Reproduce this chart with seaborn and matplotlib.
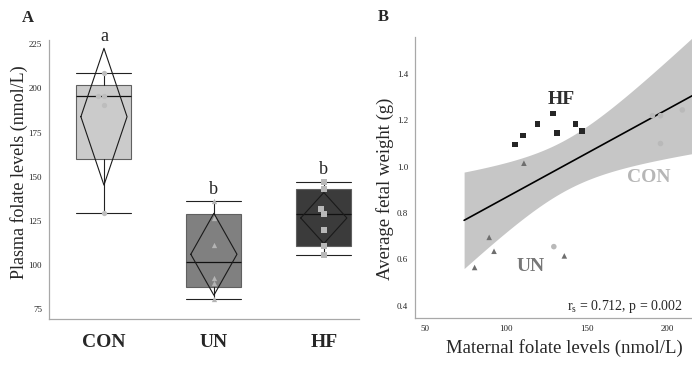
import math
import numpy as np
import pandas as pd
import matplotlib
matplotlib.use("Agg")
import matplotlib.pyplot as plt
import seaborn as sns

# ---------------- data ----------------
groups = ["CON", "UN", "HF"]

# Panel A: plasma folate (nmol/L) per dam
con_folate = [129.5, 190.5, 195.5, 195.5, 209.0]
un_folate = [80.5, 89.5, 92.5, 111.0, 126.5, 136.0]
hf_folate = [105.5, 110.5, 119.5, 129.0, 131.5, 143.0, 147.0]
sig_letters = ["a", "b", "b"]

# Panel B: maternal folate vs. average fetal weight (dams with both measures)
con_b_folate = [129.5, 190.5, 195.5, 195.5, 209.0]
con_weight = [0.655, 1.220, 1.220, 1.100, 1.245]
un_b_folate = [80.5, 89.5, 92.5, 111.0, 136.0]
un_weight = [0.565, 0.695, 0.635, 1.015, 0.615]
hf_b_folate = [105.5, 110.5, 119.5, 129.0, 131.5, 143.0, 147.0]
hf_weight = [1.095, 1.135, 1.185, 1.230, 1.145, 1.185, 1.155]

spearman_text = r"r$_\mathrm{s}$ = 0.712, p = 0.002"

# two-sided 95% t critical values by degrees of freedom
T975 = {4: 2.776, 5: 2.571, 6: 2.447, 15: 2.131}

# ---------------- style ----------------
sns.set_theme(style="white")
plt.rcParams["font.family"] = ["Liberation Serif", "DejaVu Serif"]
plt.rcParams["mathtext.fontset"] = "custom"
plt.rcParams["mathtext.rm"] = "Liberation Serif"
plt.rcParams["mathtext.it"] = "Liberation Serif:italic"

box_fill = {"CON": "#cbcbcb", "UN": "#808080", "HF": "#3b3b3b"}
pt_color_a = {"CON": "#bdbdbd", "UN": "#b4b4b4", "HF": "#b8b8b8"}
pt_color_b = {"CON": "#b9b9b9", "UN": "#6e6e6e", "HF": "#262626"}
markers = {"CON": "o", "UN": "^", "HF": "s"}
spine_col = "#a8a8a8"

W, H = 692, 369
fig = plt.figure(figsize=(W / 100, H / 100), dpi=100)
axA = fig.add_axes([49 / W, 1 - 319 / H, 310 / W, 279 / H])
# panel B runs slightly past the right edge of the canvas
axB = fig.add_axes([415.3 / W, 1 - 318 / H, (714 - 415.3) / W, 281.3 / H])


def quantile_np1(values, p):
    """Quantile using the (n+1)p positioning rule."""
    s = sorted(values)
    n = len(s)
    pos = p * (n + 1)
    lo = int(math.floor(pos))
    frac = pos - lo
    if lo < 1:
        return s[0]
    if lo >= n:
        return s[-1]
    return s[lo - 1] + frac * (s[lo] - s[lo - 1])


# ---------------- panel A ----------------
series_a = {"CON": con_folate, "UN": un_folate, "HF": hf_folate}
for i, g in enumerate(groups):
    v = series_a[g]
    st = dict(med=quantile_np1(v, 0.5), q1=quantile_np1(v, 0.25),
              q3=quantile_np1(v, 0.75), whislo=min(v), whishi=max(v),
              fliers=[], label=g)
    axA.bxp([st], positions=[i], widths=0.5, capwidths=0.5, patch_artist=True,
            showfliers=False,
            boxprops=dict(facecolor=box_fill[g], edgecolor="#606060", lw=0.8),
            medianprops=dict(color="#111111", lw=0.9),
            whiskerprops=dict(color="#222222", lw=0.8),
            capprops=dict(color="#222222", lw=0.8), zorder=2)
    # mean diamond spanning the 95% confidence interval
    arr = np.asarray(v)
    m = arr.mean()
    half = T975[len(arr) - 1] * arr.std(ddof=1) / math.sqrt(len(arr))
    hw = 0.21
    axA.plot([i - hw, i, i + hw, i, i - hw], [m, m + half, m, m - half, m],
             color="#1a1a1a", lw=0.8, zorder=3)
    top = max(max(v), m + half)
    axA.annotate(sig_letters[i], (i, top), xytext=(0, 12),
                 textcoords="offset pixels", ha="center", va="center",
                 fontsize=13, annotation_clip=False)

for g in groups:
    v = series_a[g]
    sns.swarmplot(x=[g] * len(v), y=v, order=groups, color=pt_color_a[g],
                  marker=markers[g], size=3.8, linewidth=0, ax=axA, zorder=5)

axA.set_xlim(-0.5, 2.32)
axA.set_ylim(69.3, 227.5)
axA.set_yticks([75, 100, 125, 150, 175, 200, 225])
axA.set_xticks(range(3))
axA.set_xticklabels(groups, fontsize=14, fontweight="bold")
axA.tick_params(axis="x", length=0, pad=11)
axA.tick_params(axis="y", length=3, width=0.6, color=spine_col, labelsize=6.5,
                pad=2)
axA.set_ylabel("Plasma folate levels (nmol/L)", fontsize=13)
axA.yaxis.set_label_coords(-0.068, 0.527)
axA.set_xlabel("")

# ---------------- panel B ----------------
dfB = pd.DataFrame({
    "folate": con_b_folate + un_b_folate + hf_b_folate,
    "weight": con_weight + un_weight + hf_weight,
    "group": ["CON"] * len(con_b_folate) + ["UN"] * len(un_b_folate)
             + ["HF"] * len(hf_b_folate),
})

x_lo, x_hi = 43.8, 228.6
fit_start = 74

# 95% confidence band of the least-squares fit (t-based)
xv = dfB["folate"].to_numpy()
yv = dfB["weight"].to_numpy()
n = len(xv)
slope, intercept = np.polyfit(xv, yv, 1)
resid = yv - (intercept + slope * xv)
s_res = math.sqrt((resid ** 2).sum() / (n - 2))
sxx = ((xv - xv.mean()) ** 2).sum()
grid = np.linspace(fit_start, x_hi, 200)
fit = intercept + slope * grid
se = s_res * np.sqrt(1 / n + (grid - xv.mean()) ** 2 / sxx)
axB.fill_between(grid, fit - T975[n - 2] * se, fit + T975[n - 2] * se,
                 color="#c6c6c6", lw=0, zorder=1)

axB.set_xlim(fit_start, x_hi)
sns.regplot(data=dfB, x="folate", y="weight", scatter=False, truncate=False,
            ci=None, color="black", line_kws=dict(lw=1.2, zorder=2), ax=axB)

sns.scatterplot(data=dfB, x="folate", y="weight", hue="group", style="group",
                palette=pt_color_b, markers=markers, s=16, linewidth=0,
                legend=False, zorder=4, ax=axB)

axB.set_xlim(x_lo, x_hi)
axB.set_ylim(0.347, 1.561)
axB.set_xticks([50, 100, 150, 200])
axB.set_yticks([0.4, 0.6, 0.8, 1.0, 1.2, 1.4])
axB.set_yticklabels(["0.4", "0.6", "0.8", "1.0", "1.2", "1.4"])
axB.tick_params(axis="x", length=0, labelsize=6.5, pad=5)
axB.tick_params(axis="y", length=3, width=0.6, color=spine_col, labelsize=6.5,
                pad=2)
axB.set_xlabel("Maternal folate levels (nmol/L)", fontsize=13.5)
axB.xaxis.set_label_coords(0.5, -0.075)
axB.set_ylabel("Average fetal weight (g)", fontsize=13.5)
axB.yaxis.set_label_coords(-0.071, 0.46)

axB.text(134, 1.292, "HF", color="#2e2e2e", fontsize=14, fontweight="bold",
         ha="center", va="center")
axB.text(188.4, 0.955, "CON", color="#b6b6b6", fontsize=14,
         fontweight="bold", ha="center", va="center")
axB.text(115.4, 0.571, "UN", color="#777777", fontsize=14,
         fontweight="bold", ha="center", va="center")
axB.text(209.5, 0.398, spearman_text, fontsize=10, ha="right", va="center")

for ax in (axA, axB):
    sns.despine(ax=ax)
    for side in ("left", "bottom"):
        ax.spines[side].set_color(spine_col)
        ax.spines[side].set_linewidth(0.9)
    ax.set_facecolor("white")

fig.text(28 / W, 1 - 18 / H, "A", fontsize=12, fontweight="bold",
         ha="center", va="center")
fig.text(383 / W, 1 - 17 / H, "B", fontsize=12, fontweight="bold",
         ha="center", va="center")

fig.savefig("out.png", dpi=100, facecolor="white")
